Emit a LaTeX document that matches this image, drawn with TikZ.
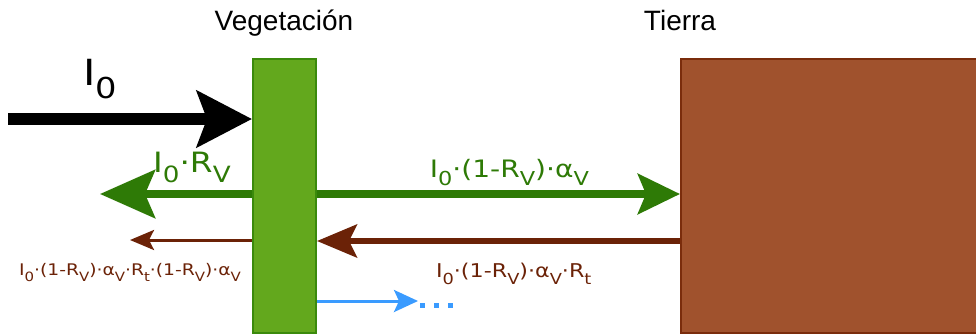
\documentclass[tikz,border=0pt]{standalone}
\usepackage{fontspec}
\setmainfont[FakeStretch=1.17]{DejaVu Sans}
\newfontfamily\titlefont{Liberation Sans}
\usetikzlibrary{arrows.meta, positioning}

\definecolor{vegfill}{HTML}{63A81D}
\definecolor{vegdraw}{HTML}{3B8A0C}
\definecolor{soilfill}{HTML}{A0522D}
\definecolor{soildraw}{HTML}{7A2C0C}
\definecolor{greenarr}{HTML}{2E7A06}
\definecolor{brownarr}{HTML}{6B2207}
\definecolor{bluearr}{HTML}{3A9BFF}

\newcommand{\lowsub}[1]{\raisebox{-0.35em}{\scalebox{0.8}{#1}}}
\newcommand{\fsz}[1]{\fontsize{#1}{#1}\selectfont}

\begin{document}
\begin{tikzpicture}[x=1pt, y=-1pt,
  layer/.style={
    rectangle, line width=2pt, anchor=north west,
    inner sep=0pt, minimum height=274pt
  },
  title/.style={font=\titlefont\fsz{28}, anchor=base},
  lbl/.style={inner sep=0pt},
  arrin/.style={-{Stealth[length=55pt, width=56pt, inset=10pt]}, line width=12pt, draw=black},
  arrref/.style={-{Stealth[length=55pt, width=48pt, inset=10pt]}, line width=8pt, draw=greenarr},
  arrtra/.style={-{Stealth[length=42pt, width=40pt, inset=8pt]}, line width=8pt, draw=greenarr},
  arrsoil/.style={-{Stealth[length=40pt, width=33pt, inset=8pt]}, line width=6pt, draw=brownarr},
  arrback/.style={-{Stealth[length=24pt, width=20pt, inset=5pt]}, line width=3pt, draw=brownarr},
  arrmore/.style={-{Stealth[length=24pt, width=22pt, inset=5pt]}, line width=3pt, draw=bluearr},
  dots/.style={draw=bluearr, line width=5pt, dash pattern=on 5pt off 9pt}
]
  \useasboundingbox (0,0) rectangle (976,333);

  \node[layer, fill=vegfill, draw=vegdraw, minimum width=63pt] (veg) at (252,58) {};
  \node[layer, fill=soilfill, draw=soildraw, minimum width=298pt] (soil) at (680,58) {};

  \node[title] (vegtitle) at (284,30) {Vegetación};
  \node[title] (soiltitle) at (680,30) {Tierra};

  \coordinate (rowin) at (8,119);
  \coordinate (rowref) at (100,194);
  \coordinate (rowback) at (130,240);
  \coordinate (moreend) at (418,301);
  \coordinate (dotsstart) at (420,305.5);
  \coordinate (dotsend) at (455,305.5);

  \draw[arrin] (rowin) -- (rowin -| veg.west)
    node[lbl, pos=0.377, above=14pt, font=\fsz{36}] {I\lowsub{0}};
  \draw[arrref] (rowref -| veg.west) -- (rowref)
    node[lbl, pos=0.395, above=7pt, font=\fsz{28}, text=greenarr] {I\lowsub{0}·R\lowsub{V}};
  \draw[arrtra] (rowref -| veg.east) -- (rowref -| soil.west)
    node[lbl, pos=0.53, above=4pt, font=\fsz{24}, text=greenarr] {I\lowsub{0}·(1-R\lowsub{V})·α\lowsub{V}};
  \draw[arrsoil] (rowback -| soil.west) ++(0,1) coordinate (soilout) -- (soilout -| veg.east)
    node[lbl, pos=0.458, below=19pt, font=\fsz{19}, text=brownarr] {I\lowsub{0}·(1-R\lowsub{V})·α\lowsub{V}·R\lowsub{t}};
  \draw[arrback] (rowback -| veg.west) -- (rowback)
    node[lbl, pos=1, below=22pt, font=\fsz{16}, text=brownarr] {I\lowsub{0}·(1-R\lowsub{V})·α\lowsub{V}·R\lowsub{t}·(1-R\lowsub{V})·α\lowsub{V}};
  \draw[arrmore] (moreend -| veg.east) -- (moreend);
  \draw[dots] (dotsstart) -- (dotsend);

\end{tikzpicture}
\end{document}
